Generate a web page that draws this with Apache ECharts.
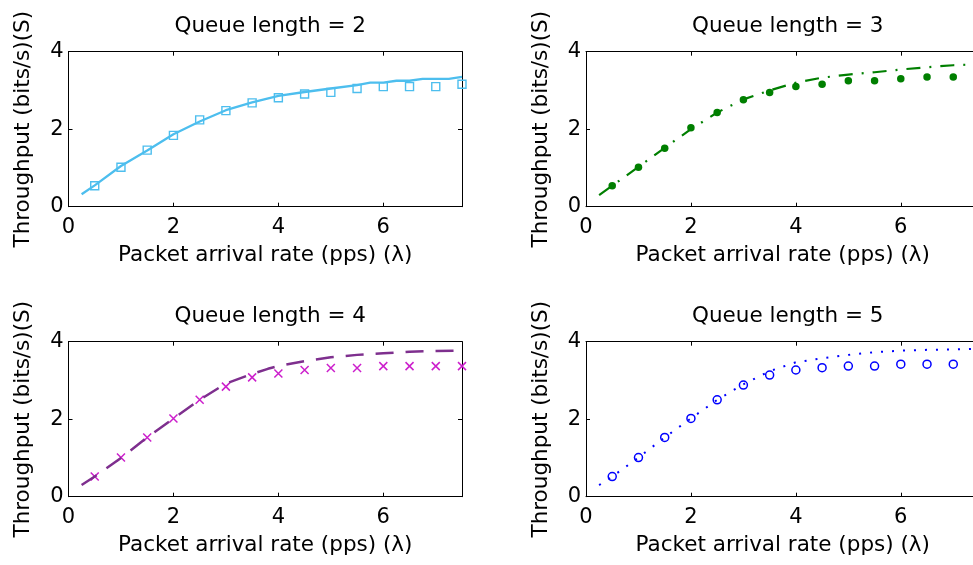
<!DOCTYPE html>
<html>
<head>
<meta charset="utf-8">
<script src="https://cdn.jsdelivr.net/npm/echarts@6/dist/echarts.min.js"></script>
<style>
  html, body { margin: 0; padding: 0; background: #fff; }
  #chart { width: 973px; height: 565px; }
</style>
</head>
<body>
<div id="chart"></div>
<script>
// Arrival rates at which the throughput was measured (markers)
const markX = [0.5, 1, 1.5, 2, 2.5, 3, 3.5, 4, 4.5, 5, 5.5, 6, 6.5, 7, 7.5];

// Queue length = 2
const q2MarkY = [0.54, 1.02, 1.46, 1.84, 2.24, 2.48, 2.68, 2.81, 2.91, 2.95, 3.05, 3.10, 3.10, 3.10, 3.16];
const q2LineX = [0.25, 0.5, 1, 1.5, 2, 2.5, 3, 3.5, 4, 4.5, 5, 5.5, 5.75, 6, 6.25, 6.5, 6.75, 7.25, 7.5];
const q2LineY = [0.32, 0.55, 1.05, 1.45, 1.87, 2.20, 2.49, 2.69, 2.86, 2.96, 3.05, 3.14, 3.20, 3.20, 3.25, 3.25, 3.30, 3.30, 3.35];

// Queue length = 3
const q3MarkY = [0.54, 1.02, 1.51, 2.04, 2.43, 2.76, 2.95, 3.10, 3.16, 3.25, 3.25, 3.30, 3.35, 3.35];
const q3LineX = [0.25, 0.5, 1, 1.5, 2, 2.5, 3, 3.5, 4, 4.5, 5, 5.5, 6, 6.5, 7, 7.5];
const q3LineY = [0.30, 0.54, 1.03, 1.52, 2.00, 2.43, 2.77, 3.00, 3.20, 3.33, 3.41, 3.47, 3.54, 3.60, 3.65, 3.68];

// Queue length = 4
const q4MarkY = [0.52, 1.01, 1.53, 2.02, 2.50, 2.84, 3.08, 3.18, 3.27, 3.32, 3.32, 3.37, 3.37, 3.37, 3.37];
const q4LineX = [0.25, 0.5, 1, 1.5, 2, 2.5, 3, 3.5, 3.8, 4, 4.5, 5, 5.5, 6, 6.5, 7, 7.5];
const q4LineY = [0.30, 0.52, 1.00, 1.53, 2.02, 2.50, 2.92, 3.17, 3.30, 3.37, 3.50, 3.60, 3.66, 3.70, 3.74, 3.76, 3.77];

// Queue length = 5
const q5MarkY = [0.52, 1.01, 1.53, 2.02, 2.50, 2.88, 3.14, 3.27, 3.33, 3.37, 3.37, 3.42, 3.42, 3.42];
const q5LineX = [0.25, 0.5, 1, 1.5, 2, 2.5, 3, 3.5, 4, 4.5, 5, 5.5, 6, 6.5, 7, 7.5];
const q5LineY = [0.30, 0.52, 1.01, 1.53, 2.02, 2.50, 2.90, 3.24, 3.47, 3.57, 3.66, 3.73, 3.77, 3.79, 3.80, 3.82];

const xTicks = [0, 2, 4, 6];
const yTicks = [0, 2, 4];

const titles = ['Queue length = 2', 'Queue length = 3', 'Queue length = 4', 'Queue length = 5'];
const xName = 'Packet arrival rate (pps) (\u03bb)';
const yName = 'Throughput (bits/s)(S)';

const FONT = 'DejaVu Sans';
const zip = (xs, ys) => ys.map((y, i) => [xs[i], y]);

// Plot boxes; the right-hand column runs slightly past the page edge
const panels = [
  { left: 68.5, top: 51.7, width: 393.5 },
  { left: 586, top: 51.7, width: 393.5 },
  { left: 68.5, top: 341.7, width: 393.5 },
  { left: 586, top: 341.7, width: 393.5 }
];
const plotH = 155;

const grid = [], xAxis = [], yAxis = [], title = [];
panels.forEach((p, i) => {
  grid.push({
    left: p.left, top: p.top, width: p.width, height: plotH,
    containLabel: false, outerBoundsMode: 'none'
  });
  title.push({
    text: titles[i],
    left: p.left + p.width / 2,
    textAlign: 'center',
    top: p.top - 41,
    textStyle: { fontFamily: FONT, fontSize: 21.5, fontWeight: 'normal', color: '#000' }
  });
  const line = { show: true, onZero: false, lineStyle: { color: '#000', width: 1 } };
  const tick = { show: true, inside: true, length: 4, lineStyle: { color: '#000', width: 1 } };
  const xFmt = v => (xTicks.includes(v) ? String(v) : '');
  const yFmt = v => (yTicks.includes(v) ? String(v) : '');
  xAxis.push({
    gridIndex: i, type: 'value', position: 'bottom', min: 0, max: 7.5, interval: 2,
    axisLine: line, axisTick: tick, splitLine: { show: false },
    axisLabel: { formatter: xFmt, margin: 10, fontFamily: FONT, fontSize: 21, color: '#000' },
    name: xName, nameLocation: 'middle', nameGap: 38,
    nameTextStyle: { fontFamily: FONT, fontSize: 21.5, color: '#000' }
  });
  xAxis.push({
    gridIndex: i, type: 'value', position: 'top', min: 0, max: 7.5, interval: 2,
    axisLine: line, axisTick: tick, splitLine: { show: false }, axisLabel: { show: false }
  });
  yAxis.push({
    gridIndex: i, type: 'value', position: 'left', min: 0, max: 4, interval: 2,
    axisLine: line, axisTick: tick, splitLine: { show: false },
    axisLabel: { formatter: yFmt, margin: 5, fontFamily: FONT, fontSize: 21, color: '#000' },
    name: yName, nameLocation: 'middle', nameGap: 34, nameRotate: 90,
    nameTextStyle: { fontFamily: FONT, fontSize: 21.5, color: '#000' }
  });
  yAxis.push({
    gridIndex: i, type: 'value', position: 'right', min: 0, max: 4, interval: 2,
    axisLine: line, axisTick: tick, splitLine: { show: false }, axisLabel: { show: false }
  });
});

function lineSeries(i, xs, ys, color, width, dash) {
  return {
    type: 'line', xAxisIndex: 2 * i, yAxisIndex: 2 * i,
    data: zip(xs, ys), showSymbol: false, symbol: 'none', smooth: false,
    lineStyle: { color: color, width: width, type: dash, cap: 'butt', opacity: 1 },
    silent: true, animation: false, z: 3
  };
}
function markSeries(i, ys, symbol, size, style) {
  return {
    type: 'scatter', xAxisIndex: 2 * i, yAxisIndex: 2 * i,
    data: zip(markX, ys), symbol: symbol, symbolSize: size,
    itemStyle: Object.assign({ opacity: 1 }, style), silent: true, animation: false, z: 2
  };
}

const series = [
  markSeries(0, q2MarkY, 'rect', 8, { color: 'rgba(0,0,0,0)', borderColor: '#4DBEEE', borderWidth: 1.4 }),
  lineSeries(0, q2LineX, q2LineY, '#4DBEEE', 2.3, 'solid'),

  markSeries(1, q3MarkY, 'circle', 7.5, { color: '#007F00', borderWidth: 0 }),
  lineSeries(1, q3LineX, q3LineY, '#007F00', 2.2, [14, 9, 2, 9]),

  markSeries(2, q4MarkY, 'path://M0,0L10,10M10,0L0,10', 8, { color: 'rgba(0,0,0,0)', borderColor: '#CC1FCC', borderWidth: 1.5 }),
  lineSeries(2, q4LineX, q4LineY, '#7E2F8E', 2.5, [18, 12]),

  markSeries(3, q5MarkY, 'circle', 8, { color: 'rgba(0,0,0,0)', borderColor: '#0000FF', borderWidth: 1.5 }),
  lineSeries(3, q5LineX, q5LineY, '#0000FF', 2, [2, 9])
];

const chart = echarts.init(document.getElementById('chart'), null, { renderer: 'canvas' });
chart.setOption({
  backgroundColor: '#fff',
  animation: false,
  title: title,
  grid: grid,
  xAxis: xAxis,
  yAxis: yAxis,
  series: series
});
</script>
</body>
</html>
